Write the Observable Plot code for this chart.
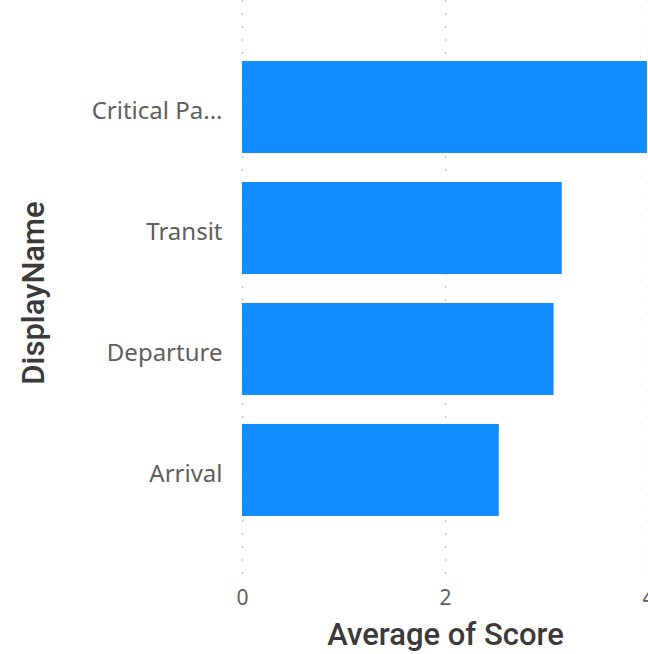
<!DOCTYPE html>
<html>
<head>
<meta charset="utf-8">
<script src="https://cdn.jsdelivr.net/npm/d3@7"></script>
<script src="https://cdn.jsdelivr.net/npm/@observablehq/plot@0.6"></script>
<style>
  html, body { margin: 0; padding: 0; background: #fff; overflow: hidden; }
  #chart svg { display: block; }
</style>
</head>
<body>
<div id="chart"></div>
<script>
const categories = ["Critical Path", "Transit", "Departure", "Arrival"];
const categoryLabels = ["Critical Pa...", "Transit", "Departure", "Arrival"];
const avgScore = [3.99, 3.15, 3.07, 2.53];
const xTicks = [0, 2, 4];
const xTitle = "Average of Score";
const yTitle = "DisplayName";

const data = categories.map((c, i) => ({name: c, value: avgScore[i]}));

const chart = Plot.plot({
  width: 648,
  height: 654,
  marginLeft: 242,
  marginRight: 0,
  marginTop: 0,
  marginBottom: 77,
  style: {fontFamily: "'Noto Sans', 'Open Sans', sans-serif", background: "#fff"},
  x: {domain: [0, 4], axis: null},
  y: {domain: categories, paddingInner: 0.24, paddingOuter: 0.5, axis: null},
  marks: [
    Plot.gridX(xTicks, {stroke: "#c8c6c4", strokeOpacity: 1, strokeDasharray: "2,11", strokeWidth: 1.5}),
    Plot.barX(data, {x: "value", y: "name", fill: "#118DFF"}),
    Plot.axisX(xTicks, {tickSize: 0, tickPadding: 13, fontSize: 21, color: "#605E5C", label: null}),
    Plot.axisY({tickSize: 0, tickPadding: 20, fontSize: 24, color: "#605E5C", label: null, dy: 4,
      tickFormat: d => categoryLabels[categories.indexOf(d)]}),
    Plot.text([xTitle], {frameAnchor: "bottom", dy: 58, lineAnchor: "middle", textAnchor: "middle",
      text: d => d, fontSize: 31, fontWeight: 500, fill: "#3b3a39", fontFamily: "Roboto, sans-serif"}),
    Plot.text([yTitle], {frameAnchor: "left", dx: -208, dy: 4, rotate: -90, textAnchor: "middle", lineAnchor: "middle",
      text: d => d, fontSize: 31, fontWeight: 500, fill: "#3b3a39", fontFamily: "Roboto, sans-serif"})
  ]
});
document.getElementById("chart").appendChild(chart);
</script>
</body>
</html>
